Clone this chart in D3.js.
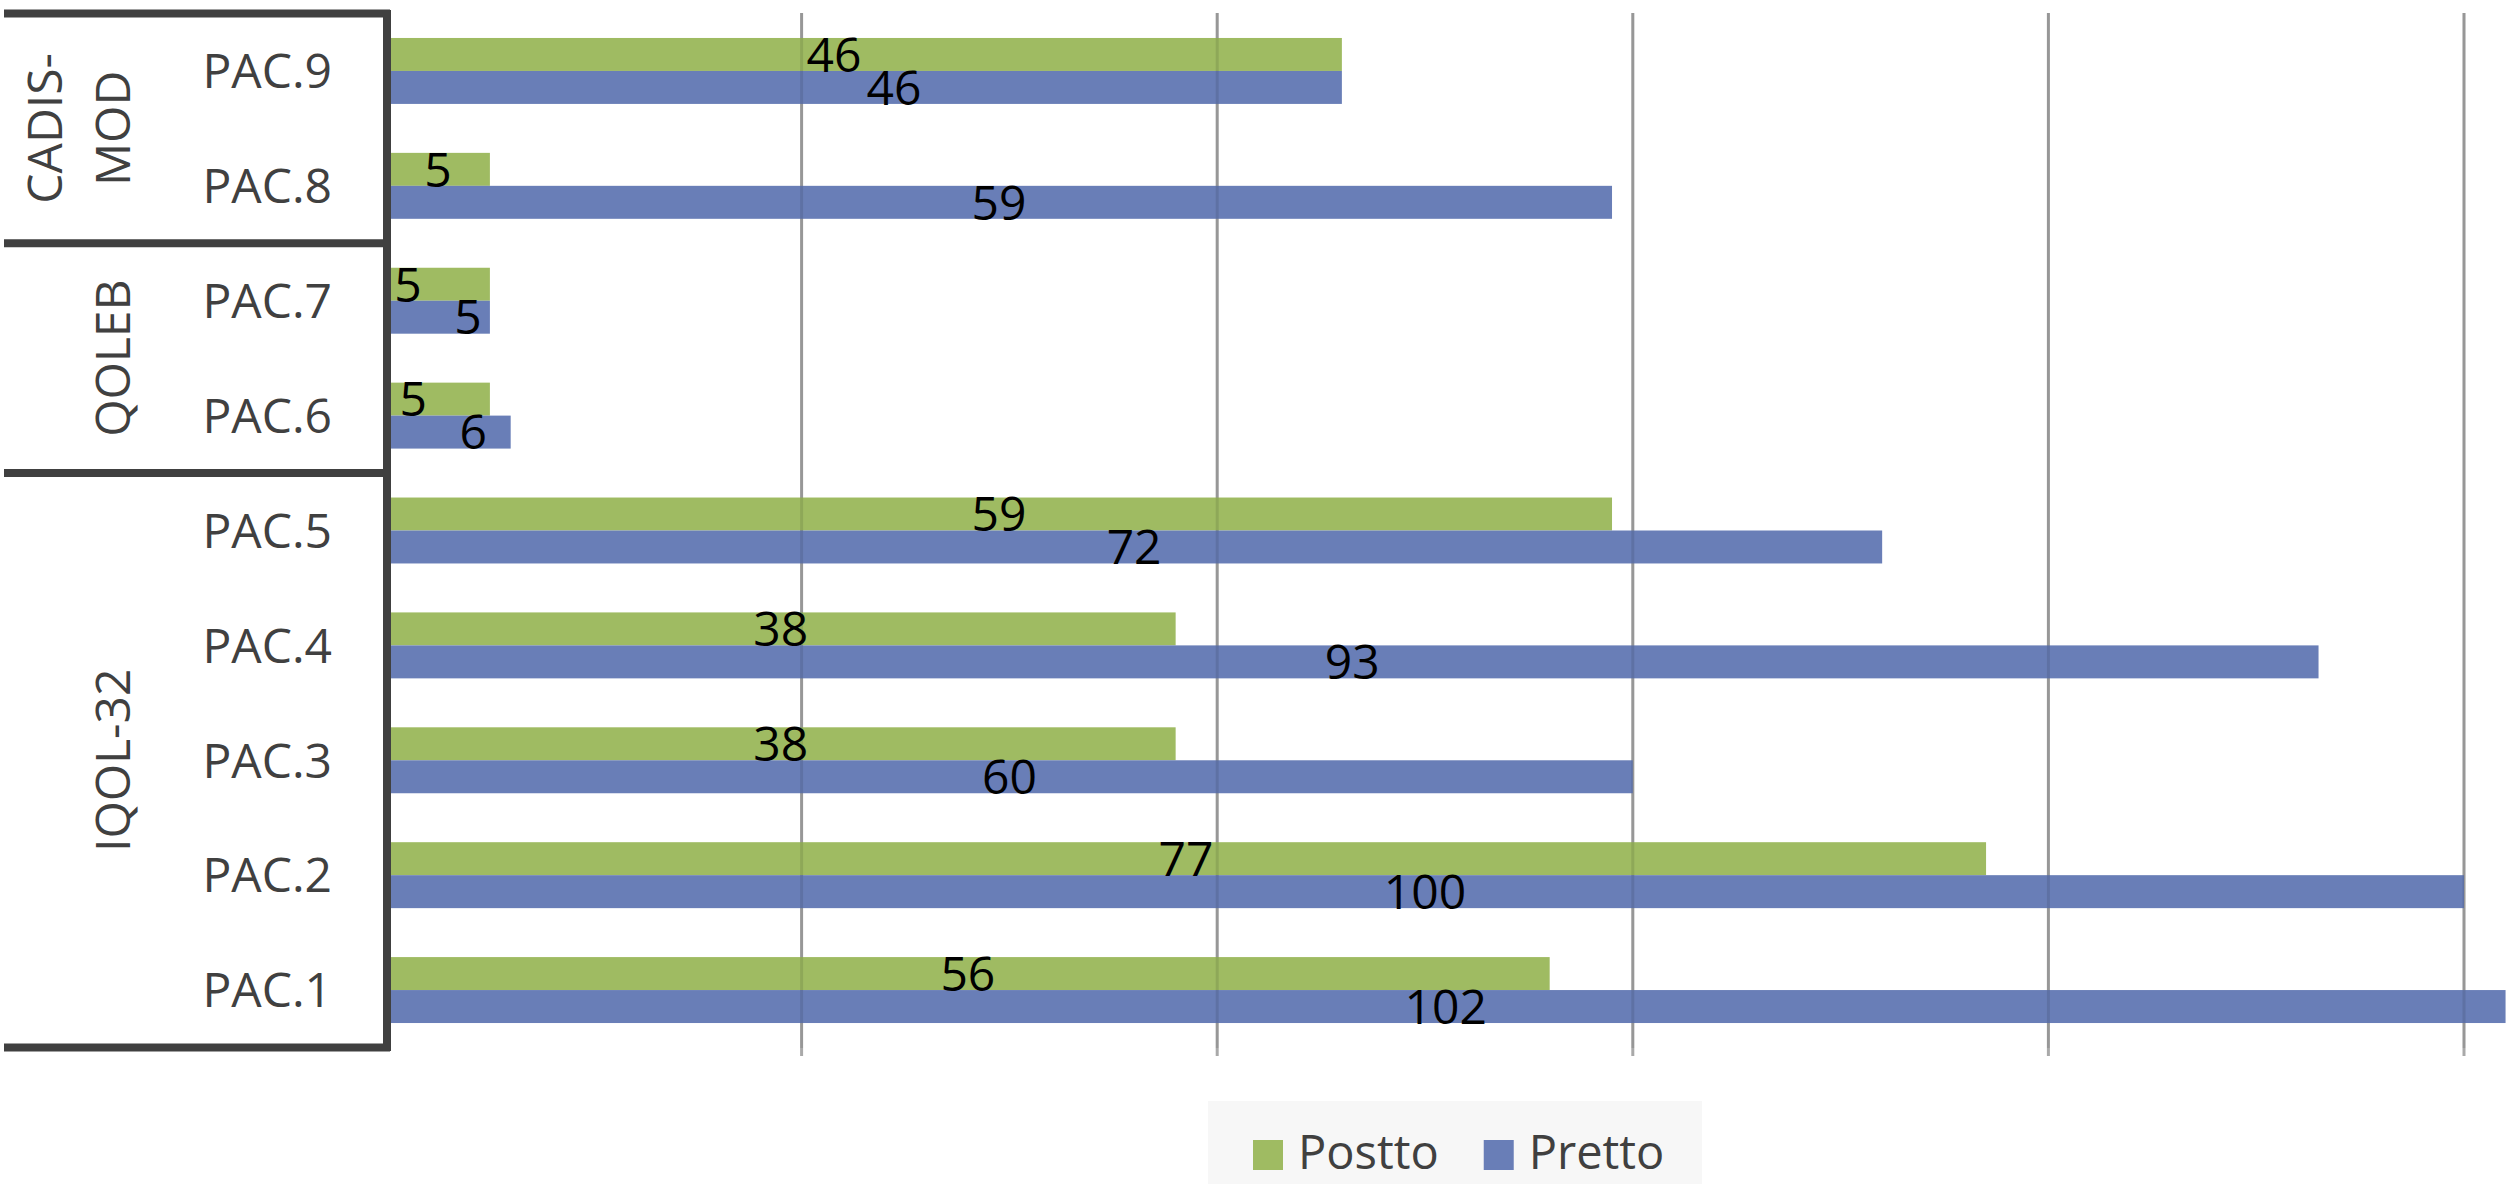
<!DOCTYPE html>
<html>
<head>
  <meta charset="utf-8">
  <script src="https://cdn.jsdelivr.net/npm/d3@7"></script>
  <style>
    body { margin: 0; background: #fff; }
    text { font-family: "Open Sans", "Noto Sans", sans-serif; }
  </style>
</head>
<body>
<script>
  // chart data, top row first
  var categories = ["PAC.9", "PAC.8", "PAC.7", "PAC.6", "PAC.5", "PAC.4", "PAC.3", "PAC.2", "PAC.1"];
  var postto = [46, 5, 5, 5, 59, 38, 38, 77, 56];
  var pretto = [46, 59, 5, 6, 72, 93, 60, 100, 102];
  var seriesNames = ["Postto", "Pretto"];
  var seriesColors = ["#9fbb62", "#697eb7"];
  var groupNames = [["CADIS-", "MOD"], ["QOLEB"], ["IQOL-32"]];
  var groupMembers = [["PAC.9", "PAC.8"], ["PAC.7", "PAC.6"], ["PAC.5", "PAC.4", "PAC.3", "PAC.2", "PAC.1"]];
  var gridTicks = [20, 40, 60, 80, 100];

  var width = 2508, height = 1184;
  var dark = "#404040";
  var fontSize = 48;

  var svg = d3.select("body").append("svg")
      .attr("width", width)
      .attr("height", height);

  var x = d3.scaleLinear().domain([0, 100]).range([386, 2464]);

  var y = d3.scaleBand()
      .domain(categories)
      .range([13.5, 1047.5])
      .paddingInner(0.426)
      .paddingOuter(0.213);

  var ySub = d3.scaleBand()
      .domain(seriesNames)
      .range([0, y.bandwidth()]);

  var gap = (y.step() - y.bandwidth()) / 2;

  // gridlines behind the bars
  svg.append("g").selectAll("line")
    .data(gridTicks)
    .join("line")
      .attr("x1", d => x(d)).attr("x2", d => x(d))
      .attr("y1", 13).attr("y2", 1056)
      .attr("stroke", "#a9a9a9")
      .attr("stroke-width", 3);

  var rows = categories.map(function(c, i) {
    return { cat: c, values: [postto[i], pretto[i]] };
  });

  var bars = svg.append("g");
  rows.forEach(function(r) {
    seriesNames.forEach(function(s, j) {
      bars.append("rect")
        .attr("x", x(0))
        .attr("y", y(r.cat) + ySub(s))
        .attr("width", x(r.values[j]) - x(0))
        .attr("height", ySub.bandwidth())
        .attr("fill", seriesColors[j]);
    });
  });

  // faint gridline showing through the bars
  svg.append("g").selectAll("line")
    .data(gridTicks)
    .join("line")
      .attr("x1", d => x(d)).attr("x2", d => x(d))
      .attr("y1", 13).attr("y2", 1048)
      .attr("stroke", "#000")
      .attr("stroke-opacity", 0.1)
      .attr("stroke-width", 3);

  // data labels, centred on the bars, pushed apart when they collide
  var minSep = 60;
  var labels = svg.append("g")
      .attr("font-size", fontSize)
      .attr("fill", "#000")
      .attr("text-anchor", "middle");
  rows.forEach(function(r) {
    var cx = r.values.map(v => (x(0) + x(v)) / 2);
    if (Math.abs(cx[1] - cx[0]) < minSep) {
      var mid = (cx[0] + cx[1]) / 2;
      cx = [mid - minSep / 2, mid + minSep / 2];
    }
    seriesNames.forEach(function(s, j) {
      labels.append("text")
        .attr("x", cx[j])
        .attr("y", y(r.cat) + ySub(s) + ySub.bandwidth() / 2)
        .attr("dy", "0.36em")
        .text(r.values[j]);
    });
  });

  // category labels
  svg.append("g")
      .attr("font-size", fontSize)
      .attr("fill", dark)
      .attr("text-anchor", "end")
    .selectAll("text")
    .data(categories)
    .join("text")
      .attr("x", 332)
      .attr("y", d => y(d) + y.bandwidth() / 2)
      .attr("dy", "0.36em")
      .text(d => d);

  // group boxes and rotated group names
  var lineStep = 68;
  var boxes = svg.append("g");
  var tops = [];
  groupMembers.forEach(function(members, gi) {
    var top = y(members[0]) - gap;
    var bottom = y(members[members.length - 1]) + y.bandwidth() + gap;
    tops.push(top);
    if (gi === groupMembers.length - 1) tops.push(bottom);
    var cy = (top + bottom) / 2;
    var lines = groupNames[gi];
    lines.forEach(function(t, li) {
      var lx = 113 - (lines.length - 1 - li) * lineStep;
      boxes.append("text")
        .attr("transform", "translate(" + lx + "," + cy + ") rotate(-90)")
        .attr("text-anchor", "middle")
        .attr("dy", "0.36em")
        .attr("font-size", fontSize)
        .attr("fill", dark)
        .text(t);
    });
  });

  boxes.selectAll("line.sep")
    .data(tops)
    .join("line")
      .attr("class", "sep")
      .attr("x1", 4).attr("x2", 390)
      .attr("y1", d => d).attr("y2", d => d)
      .attr("stroke", dark)
      .attr("stroke-width", 8);

  // value axis line
  svg.append("line")
      .attr("x1", 387).attr("x2", 387)
      .attr("y1", 10).attr("y2", 1051)
      .attr("stroke", dark)
      .attr("stroke-width", 8);

  // legend
  var legend = svg.append("g");
  legend.append("rect")
      .attr("x", 1208).attr("y", 1101)
      .attr("width", 494).attr("height", 83)
      .attr("fill", "#f7f7f7");
  var lx = 1253;
  seriesNames.forEach(function(s, j) {
    legend.append("rect")
      .attr("x", lx).attr("y", 1140)
      .attr("width", 30).attr("height", 30)
      .attr("fill", seriesColors[j]);
    var t = legend.append("text")
      .attr("x", lx + 45).attr("y", 1169)
      .attr("font-size", 47)
      .attr("fill", dark)
      .text(s);
    lx += 45 + t.node().getComputedTextLength() + 45;
  });
</script>
</body>
</html>
